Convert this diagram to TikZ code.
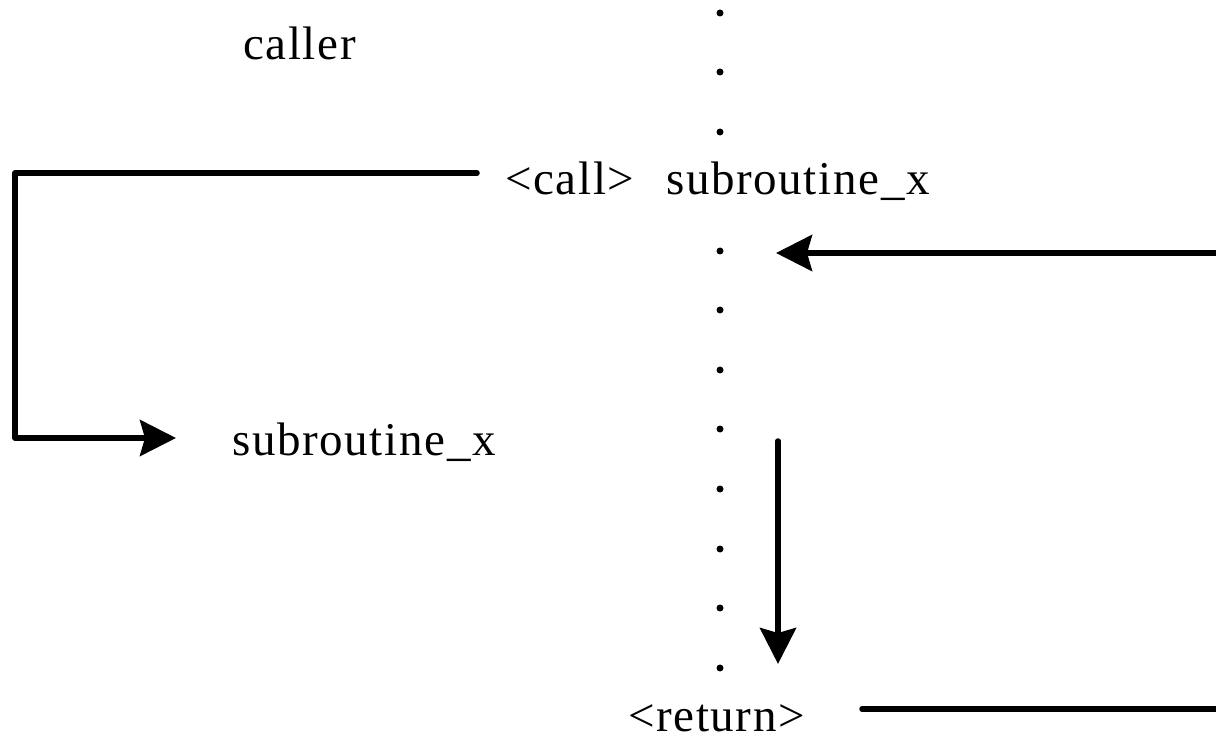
\documentclass[tikz,border=0pt]{standalone}
\usepackage{fontspec}
\setmainfont{Liberation Serif}[LetterSpace=3.5]
\usetikzlibrary{arrows.meta}
\begin{document}
\begin{tikzpicture}[x=1pt,y=-1pt,
  lbl/.style={anchor=base west,inner sep=0pt,font=\fontsize{47}{52}\selectfont},
  conn/.style={line width=5.5pt,line cap=round,line join=round},
  arr/.style={conn,-{Stealth[length=36pt,width=36pt,inset=5pt]}},
  dotmark/.style={circle,fill=black,inner sep=0pt,minimum size=7pt}]
\useasboundingbox (0,0) rectangle (1216,735);
% texts
\node[lbl] (caller) at (243,60) {caller};
\node[lbl] (call) at (505,195) {<call>};
\node[lbl] (subA) at (666,195) {subroutine\_x};
\node[lbl] (subB) at (232,455) {subroutine\_x};
\node[lbl] (ret) at (628,731) {<return>};
% dots
\foreach \i/\yy in {1/13,2/72,3/132,4/251,5/310,6/370,7/429,8/489,9/549,10/608,11/668}
  \node[dotmark] (d\i) at (720,\yy) {};
% connector coordinates
\coordinate (callend) at (477,173);
\coordinate (c1) at (15,173);
\coordinate (c2) at (15,438);
\coordinate (subtip) at (176,438);
\coordinate (rin) at (1222,253);
\coordinate (rtip) at (776,253);
\coordinate (dstart) at (778,441);
\coordinate (dtip) at (778,664);
\coordinate (retstart) at (862,709);
\coordinate (retend) at (1222,709);
% connectors
\draw[arr] (callend) -- (c1) -- (c2) -- (subtip);
\draw[arr] (rin) -- (rtip);
\draw[arr] (dstart) -- (dtip);
\draw[conn] (retstart) -- (retend);
\end{tikzpicture}
\end{document}
